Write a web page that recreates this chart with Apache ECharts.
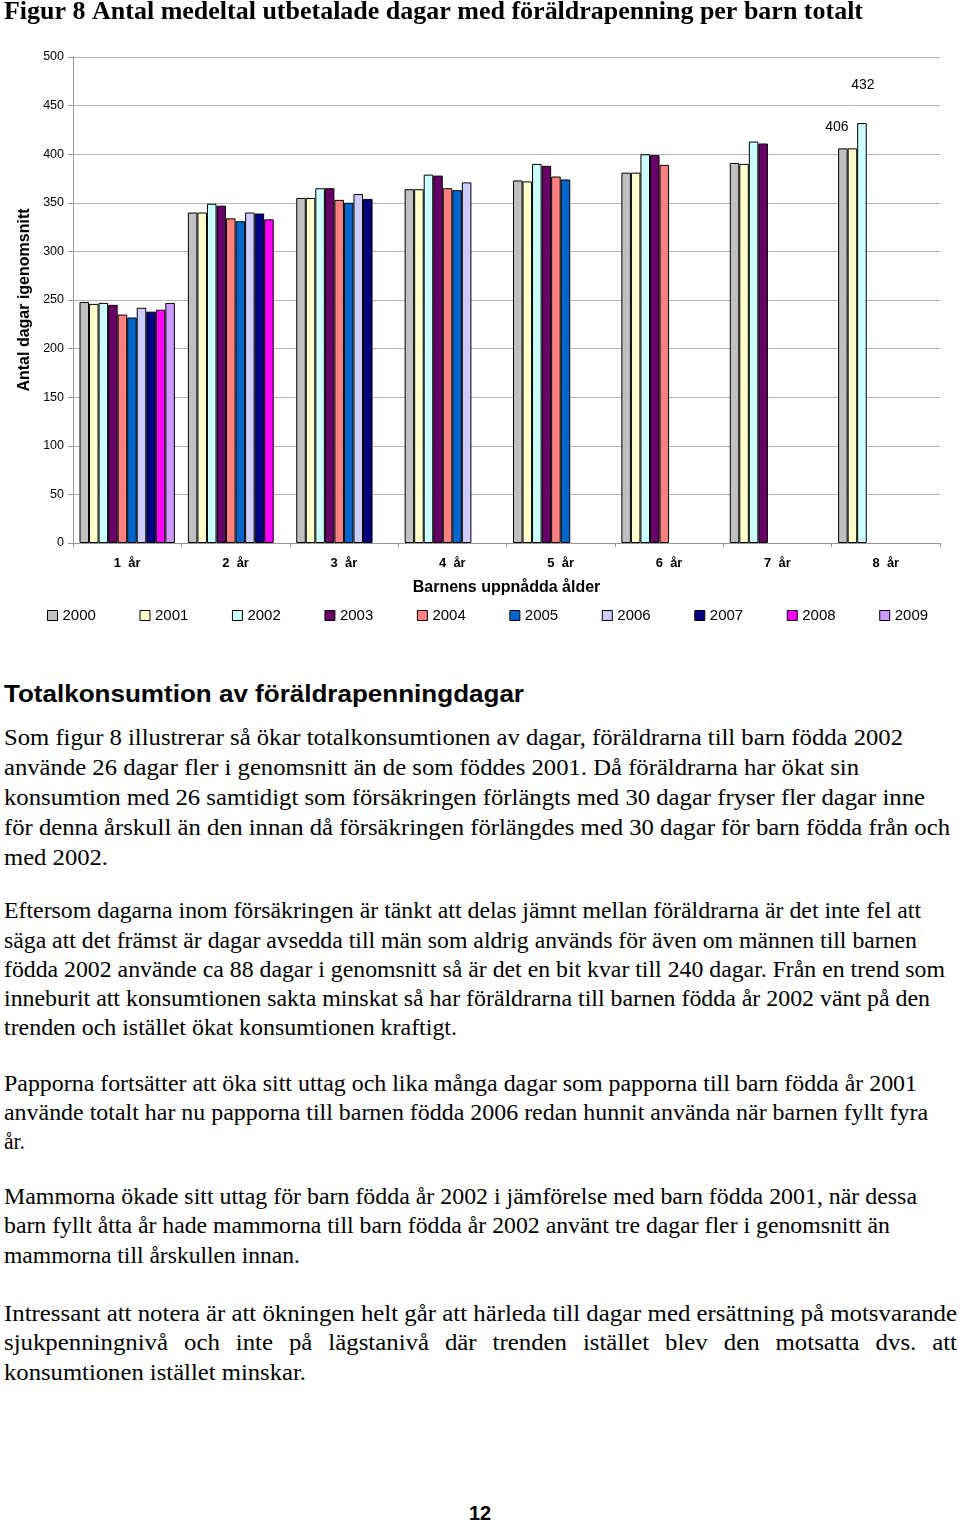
<!DOCTYPE html>
<html>
<head>
<meta charset="utf-8">
<script src="https://cdn.jsdelivr.net/npm/echarts@6/dist/echarts.min.js"></script>
<style>
  html, body { margin: 0; padding: 0; background: #fff; }
  body { width: 960px; height: 1522px; position: relative; overflow: hidden; }
  #chart { position: absolute; left: 0; top: 0; width: 960px; height: 650px; }
  .ln { position: absolute; left: 4px; white-space: nowrap; transform-origin: 0 50%; color: #000; line-height: 30px; height: 30px; }
  .tm { font-family: "Liberation Serif", "Times New Roman", serif; font-size: 24px; }
  .gm { font-family: "Liberation Serif", "Times New Roman", serif; font-size: 23px; }
  .hd { font-family: "Liberation Sans", Arial, sans-serif; font-weight: bold; font-size: 24px; }
  .pg { position: absolute; left: 0; width: 960px; text-align: center; font-family: "Liberation Sans", Arial, sans-serif; font-weight: bold; font-size: 20px; line-height: 24px; }
</style>
</head>
<body>
<div id="chart"></div>

<div class="ln hd" style="top:679px" data-r="524">Totalkonsumtion av föräldrapenningdagar</div>

<div class="ln tm" style="top:722px" data-r="903">Som figur 8 illustrerar så ökar totalkonsumtionen av dagar, föräldrarna till barn födda 2002</div>
<div class="ln tm" style="top:752px" data-r="859">använde 26 dagar fler i genomsnitt än de som föddes 2001. Då föräldrarna har ökat sin</div>
<div class="ln tm" style="top:782px" data-r="925">konsumtion med 26 samtidigt som försäkringen förlängts med 30 dagar fryser fler dagar inne</div>
<div class="ln tm" style="top:812px" data-r="950">för denna årskull än den innan då försäkringen förlängdes med 30 dagar för barn födda från och</div>
<div class="ln tm" style="top:842px" data-r="108">med 2002.</div>

<div class="ln gm" style="top:896px" data-r="921">Eftersom dagarna inom försäkringen är tänkt att delas jämnt mellan föräldrarna är det inte fel att</div>
<div class="ln gm" style="top:926px" data-r="917">säga att det främst är dagar avsedda till män som aldrig används för även om männen till barnen</div>
<div class="ln gm" style="top:955px" data-r="945">födda 2002 använde ca 88 dagar i genomsnitt så är det en bit kvar till 240 dagar. Från en trend som</div>
<div class="ln gm" style="top:984px" data-r="930">inneburit att konsumtionen sakta minskat så har föräldrarna till barnen födda år 2002 vänt på den</div>
<div class="ln gm" style="top:1013px" data-r="457">trenden och istället ökat konsumtionen kraftigt.</div>

<div class="ln gm" style="top:1069px" data-r="917">Papporna fortsätter att öka sitt uttag och lika många dagar som papporna till barn födda år 2001</div>
<div class="ln gm" style="top:1098px" data-r="928">använde totalt har nu papporna till barnen födda 2006 redan hunnit använda när barnen fyllt fyra</div>
<div class="ln gm" style="top:1127px" data-r="25">år.</div>

<div class="ln gm" style="top:1182px" data-r="917">Mammorna ökade sitt uttag för barn födda år 2002 i jämförelse med barn födda 2001, när dessa</div>
<div class="ln gm" style="top:1211px" data-r="890">barn fyllt åtta år hade mammorna till barn födda år 2002 använt tre dagar fler i genomsnitt än</div>
<div class="ln gm" style="top:1241px" data-r="300">mammorna till årskullen innan.</div>

<div class="ln tm" style="top:1298px" data-r="957">Intressant att notera är att ökningen helt går att härleda till dagar med ersättning på motsvarande</div>
<div class="ln tm" style="top:1327px" data-r="957" data-j="1">sjukpenningnivå och inte på lägstanivå där trenden istället blev den motsatta dvs. att</div>
<div class="ln tm" style="top:1357px" data-r="306">konsumtionen istället minskar.</div>

<div class="pg" style="top:1501px">12</div>

<script>
// ---- Data ----
const chartTitle = 'Figur 8 Antal medeltal utbetalade dagar med föräldrapenning per barn totalt';
const categories = ['1  år', '2  år', '3  år', '4  år', '5  år', '6  år', '7  år', '8  år'];
const years = ['2000', '2001', '2002', '2003', '2004', '2005', '2006', '2007', '2008', '2009'];
const yTicks = [0, 50, 100, 150, 200, 250, 300, 350, 400, 450, 500];

const v2000 = [248, 340, 355, 364, 373, 381, 391, 406];
const v2001 = [246, 340, 355, 364, 372, 381, 390, 406];
const v2002 = [247, 349, 365, 379, 390, 400, 413, 432];
const v2003 = [245, 347, 365, 378, 388, 399, 411, null];
const v2004 = [235, 334, 353, 365, 377, 389, null, null];
const v2005 = [232, 331, 350, 363, 374, null, null, null];
const v2006 = [242, 340, 359, 371, null, null, null, null];
const v2007 = [238, 339, 354, null, null, null, null, null];
const v2008 = [240, 333, null, null, null, null, null, null];
const v2009 = [247, null, null, null, null, null, null, null];
const seriesValues = [v2000, v2001, v2002, v2003, v2004, v2005, v2006, v2007, v2008, v2009];

const colors = ['#c0c0c0', '#ffffcc', '#ccffff', '#660066', '#ff8080', '#0066cc', '#ccccff', '#000080', '#ff00ff', '#cc99ff'];

// ---- Text line fitting ----
(function fitLines() {
  const lines = document.querySelectorAll('.ln');
  let lastScale = 1;
  lines.forEach(el => {
    const target = parseFloat(el.dataset.r) - 4;
    if (el.dataset.j) {
      el.style.width = (target / lastScale) + 'px';
      el.style.textAlign = 'justify';
      el.style.textAlignLast = 'justify';
      el.style.whiteSpace = 'normal';
      el.style.transform = 'scaleX(' + lastScale + ')';
      return;
    }
    const w = el.getBoundingClientRect().width;
    const s = target / w;
    lastScale = s;
    el.style.transform = 'scaleX(' + s + ')';
  });
})();

// ---- Chart ----
const mctx = document.createElement('canvas').getContext('2d');
mctx.font = 'bold 26px "Liberation Serif"';
const titleScale = (863 - 4) / mctx.measureText(chartTitle).width;

const labelStyle = { fontSize: 14, color: '#000', fontFamily: 'Liberation Sans' };

const series = years.map((y, i) => ({
  name: y,
  type: 'bar',
  barGap: '0%',
  barCategoryGap: '12%',
  itemStyle: { color: colors[i], borderColor: '#000', borderWidth: 1 },
  emphasis: { disabled: true },
  data: seriesValues[i].map(v => (v == null ? '-' : v))
}));
// value labels in the 8-year group
series[0].data[7] = { value: v2000[7], label: Object.assign({ show: true, position: 'top', offset: [-6, -9] }, labelStyle) };
series[2].data[7] = { value: v2002[7], label: Object.assign({ show: true, position: 'top', offset: [1, -26] }, labelStyle) };

const chart = echarts.init(document.getElementById('chart'), null, { renderer: 'canvas' });
chart.setOption({
  animation: false,
  backgroundColor: '#fff',
  textStyle: { fontFamily: 'Liberation Sans' },
  graphic: [{
    type: 'text',
    x: 4, y: -1,
    scaleX: titleScale,
    style: {
      text: chartTitle,
      fontFamily: 'Liberation Serif',
      fontWeight: 'bold',
      fontSize: 26,
      fill: '#000',
      textVerticalAlign: 'top'
    }
  }],
  grid: { left: 73, right: 20, top: 57, height: 486 },
  legend: {
    data: years,
    left: 42,
    top: 603,
    icon: 'rect',
    itemWidth: 10,
    itemHeight: 10,
    itemGap: 43.6,
    itemStyle: { borderColor: '#000', borderWidth: 1 },
    textStyle: { fontSize: 15, color: '#000', fontFamily: 'Liberation Sans' },
    selectedMode: false
  },
  xAxis: {
    type: 'category',
    data: categories,
    name: 'Barnens uppnådda ålder',
    nameLocation: 'middle',
    nameGap: 37,
    nameTextStyle: { fontSize: 16, fontWeight: 'bold', color: '#000' },
    axisLine: { lineStyle: { color: '#999' } },
    axisTick: { show: true, length: 4, lineStyle: { color: '#999' } },
    axisLabel: { fontSize: 13, fontWeight: 'bold', color: '#000', margin: 14 }
  },
  yAxis: {
    type: 'value',
    min: yTicks[0],
    max: yTicks[yTicks.length - 1],
    interval: yTicks[1] - yTicks[0],
    name: 'Antal dagar igenomsnitt',
    nameLocation: 'middle',
    nameRotate: 90,
    nameGap: 38,
    nameTextStyle: { fontSize: 16, fontWeight: 'bold', color: '#000' },
    axisLine: { show: true, lineStyle: { color: '#999' } },
    axisTick: { show: true, length: 5, lineStyle: { color: '#999' } },
    axisLabel: { fontSize: 12.5, color: '#000', margin: 9 },
    splitLine: { lineStyle: { color: '#b4b4b4' } }
  },
  series: series
});
</script>
</body>
</html>
